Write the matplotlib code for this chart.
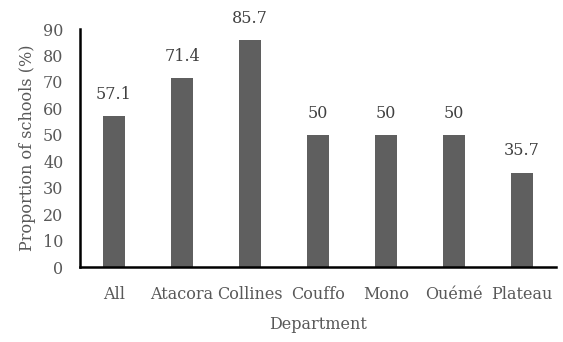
import matplotlib
matplotlib.use("Agg")
from matplotlib import pyplot as plt

# share of schools per department
departments = ["All", "Atacora", "Collines", "Couffo", "Mono", "Ouémé", "Plateau"]
proportions = [57.1, 71.4, 85.7, 50, 50, 50, 35.7]
y_ticks = [0, 10, 20, 30, 40, 50, 60, 70, 80, 90]

plt.rcParams["font.family"] = ["DejaVu Serif"]
text_color = "#595959"

fig = plt.figure(figsize=(5.63, 3.42), dpi=100)
ax = fig.add_axes([80 / 563, 75 / 342, 476 / 563, 238 / 342])

x = range(len(departments))
bars = ax.bar(x, proportions, width=0.32, color="#5f5f5f")
for rect, val in zip(bars, proportions):
    ax.text(rect.get_x() + rect.get_width() / 2, val + 5, "%g" % val,
            ha="center", va="bottom", fontsize=11.5, color="#404040")

ax.set_xlim(-0.5, len(departments) - 0.5)
ax.set_ylim(0, 90)
ax.set_yticks(y_ticks)
ax.set_xticks(list(x))
ax.set_xticklabels(departments)
ax.tick_params(axis="both", length=0, labelsize=11.5, labelcolor=text_color)
ax.tick_params(axis="x", pad=14)
ax.tick_params(axis="y", pad=12)

for side in ["top", "right"]:
    ax.spines[side].set_visible(False)
for side in ["left", "bottom"]:
    ax.spines[side].set_linewidth(1.8)
    ax.spines[side].set_color("black")

ax.set_xlabel("Department", fontsize=11.5, color=text_color, labelpad=9)
ax.set_ylabel("Proportion of schools (%)", fontsize=11.5, color=text_color, labelpad=5)

fig.savefig("out.png", dpi=100)
